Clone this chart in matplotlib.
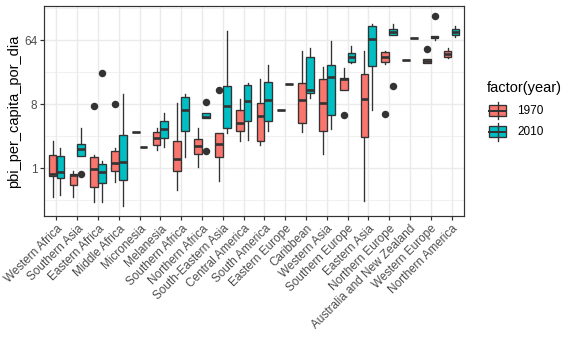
import matplotlib
matplotlib.use('Agg')
import matplotlib.pyplot as plt
from matplotlib.patches import Rectangle
import numpy as np

plt.rcParams['font.family'] = ['Liberation Sans', 'DejaVu Sans']

regions = ['Western Africa', 'Southern Asia', 'Eastern Africa', 'Middle Africa',
           'Micronesia', 'Melanesia', 'Southern Africa', 'Northern Africa',
           'South-Eastern Asia', 'Central America', 'South America',
           'Eastern Europe', 'Caribbean', 'Western Asia', 'Southern Europe',
           'Eastern Asia', 'Northern Europe', 'Australia and New Zealand',
           'Western Europe', 'Northern America']

# box statistics, one value per region
lo_1970 = [0.384, 0.392, 0.328, 0.629, 3.18, 1.82, 0.483, 1.04, 0.646, 2.41,
           2.11, 6.59, 3.18, 1.58, 12.5, 0.337, 29.9, 33.4, 30.3, 35.3]
q1_1970 = [0.763, 0.582, 0.532, 0.914, 3.18, 2.13, 0.895, 1.58, 1.41, 3.32,
           2.41, 6.59, 4.26, 3.29, 12.5, 2.73, 31.6, 33.4, 30.9, 37.5]
med_1970 = [0.824, 0.785, 0.966, 1.16, 3.18, 2.62, 1.32, 2.08, 2.22, 4.26,
            5.43, 6.59, 9.19, 8.34, 18.0, 9.58, 36.8, 33.4, 32.7, 41.4]
q3_1970 = [1.51, 0.824, 1.44, 1.75, 3.18, 3.18, 2.41, 2.53, 3.12, 6.59,
           8.34, 6.59, 15.7, 18.0, 18.6, 21.1, 43.4, 33.4, 34.5, 45.3]
hi_1970 = [2.38, 0.914, 1.54, 1.89, 3.18, 3.73, 8.28, 3.68, 3.12, 9.38,
           18.0, 6.59, 45.6, 27.1, 25.8, 45.6, 45.6, 33.4, 34.5, 48.8]
out_1970 = [[], [], [7.41], [8.0], [], [], [], [], [12.7], [],
            [], [], [], [], [5.58], [], [5.70], [], [47.8], []]

lo_2010 = [0.412, 1.49, 0.335, 0.287, 2.01, 2.01, 1.45, 5.03, 3.12, 2.51,
           3.29, 15.3, 9.85, 3.58, 30.3, 6.59, 74.5, 69.6, 64.4, 70.5]
q1_2010 = [0.712, 1.49, 0.616, 0.678, 2.01, 2.68, 3.29, 5.03, 3.73, 4.59,
           4.59, 15.3, 11.6, 5.58, 31.6, 27.5, 74.5, 69.6, 67.6, 76.1]
med_2010 = [0.889, 1.83, 0.865, 1.20, 2.01, 3.51, 6.63, 5.21, 7.57, 8.82,
            9.00, 15.3, 12.7, 19.4, 36.5, 66.3, 82.1, 69.6, 71.0, 84.4]
q3_2010 = [1.49, 2.16, 1.14, 2.93, 2.01, 4.59, 10.1, 5.90, 14.2, 14.8,
           16.3, 15.3, 36.8, 28.4, 41.9, 101, 92.4, 69.6, 73.5, 93.0]
hi_2010 = [1.93, 3.63, 1.26, 11.1, 2.01, 5.98, 11.1, 5.90, 87.4, 15.8,
           28.4, 15.3, 49.5, 61.8, 52.0, 108, 109, 69.6, 73.5, 102]
out_2010 = [[], [0.824], [22.3], [], [], [], [], [8.57, 1.72], [], [],
            [], [], [], [], [], [], [14.6], [], [142], []]

years = ['1970', '2010']
colors = ['#F8766D', '#00BFC4']
edge = '#333333'
grid = '#EBEBEB'


def make_stats(lo, q1, med, q3, hi, out):
    return [dict(whislo=a, q1=b, med=c, q3=d, whishi=e, fliers=f)
            for a, b, c, d, e, f in zip(lo, q1, med, q3, hi, out)]


W, H = 576, 355
fig = plt.figure(figsize=(W / 96, H / 96), dpi=96)
ax = fig.add_axes([44 / W, 1 - 216 / H, 420 / W, 210 / H])

ax.set_yscale('log', base=2)
ax.set_ylim(2 ** -2.25, 2 ** 7.6)
ax.set_xlim(0.4, len(regions) + 0.6)

# grid
for v in [2 ** -1.5, 2 ** 1.5, 2 ** 4.5, 2 ** 7.5]:
    ax.axhline(v, color=grid, lw=0.55, zorder=0)
for v in [1, 8, 64]:
    ax.axhline(v, color=grid, lw=1.1, zorder=0)
for i in range(len(regions)):
    ax.axvline(i + 1, color=grid, lw=1.1, zorder=0)

pos = np.arange(1, len(regions) + 1)
all_stats = [make_stats(lo_1970, q1_1970, med_1970, q3_1970, hi_1970, out_1970),
             make_stats(lo_2010, q1_2010, med_2010, q3_2010, hi_2010, out_2010)]
for k, (stats, col) in enumerate(zip(all_stats, colors)):
    offs = -0.1875 if k == 0 else 0.1875
    ax.bxp(stats, positions=pos + offs, widths=0.37, patch_artist=True,
           showcaps=False, manage_ticks=False,
           boxprops=dict(facecolor=col, edgecolor=edge, linewidth=1.0),
           whiskerprops=dict(color=edge, linewidth=1.0),
           medianprops=dict(color=edge, linewidth=2.0, solid_capstyle='butt'),
           flierprops=dict(marker='o', markerfacecolor=edge, markeredgecolor=edge,
                           markersize=4.6, linestyle='none'))

ax.set_yticks([1, 8, 64])
ax.set_yticklabels(['1', '8', '64'])
ax.yaxis.set_minor_locator(matplotlib.ticker.NullLocator())
ax.set_xticks(pos)
ax.set_xticklabels(regions, rotation=45, ha='right', va='top',
                   rotation_mode='anchor')
ax.tick_params(axis='both', colors=edge, length=2.75, width=0.9,
               labelsize=8.8, labelcolor='#4D4D4D', pad=2.2)
for s in ax.spines.values():
    s.set_color(edge)
    s.set_linewidth(0.9)
ax.set_axisbelow(True)

fig.text(14 / W, 1 - 111 / H, 'pbi_per_capita_por_dia', rotation=90,
         ha='center', va='center', fontsize=11)

# legend drawn in pixel coordinates
lg = fig.add_axes([0, 0, 1, 1], facecolor='none')
lg.set_xlim(0, W)
lg.set_ylim(H, 0)
lg.axis('off')
lg.text(486.5, 88.0, 'factor(year)', fontsize=11, ha='left', va='center')
for k, (lab, col) in enumerate(zip(years, colors)):
    cy = 110.5 + k * 21.3
    lg.plot([497.5, 497.5], [cy - 8.7, cy + 8.7], color=edge, lw=1.0)
    lg.add_patch(Rectangle((489.3, cy - 5.5), 16.6, 11.0, facecolor=col,
                           edgecolor=edge, lw=1.0))
    lg.plot([489.3, 505.9], [cy, cy], color=edge, lw=1.5)
    lg.text(517, cy, lab, fontsize=8.8, ha='left', va='center')

fig.savefig('out.png', dpi=96)
